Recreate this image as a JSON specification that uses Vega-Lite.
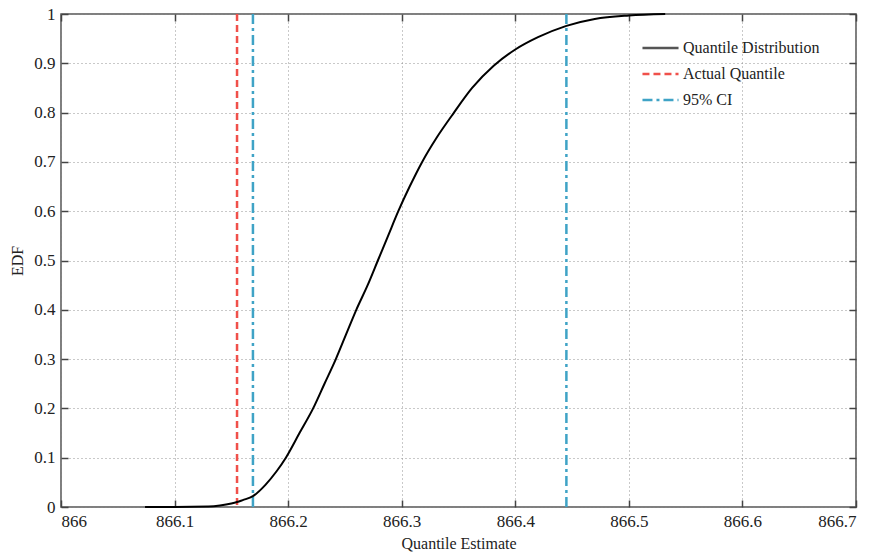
{
  "$schema": "https://vega.github.io/schema/vega-lite/v6.json",
  "width": 795,
  "height": 493,
  "autosize": "none",
  "padding": {"left": 61, "top": 14, "right": 17, "bottom": 50},
  "background": "white",
  "config": {
    "font": "Liberation Serif",
    "view": {"stroke": "#555", "strokeWidth": 1.5},
    "axis": {
      "labelFont": "Liberation Serif",
      "titleFont": "Liberation Serif",
      "labelFontSize": 17,
      "titleFontSize": 16,
      "titleFontWeight": "normal",
      "labelColor": "#222",
      "titleColor": "#222",
      "domain": false,
      "tickColor": "#444",
      "tickSize": -7,
      "tickWidth": 1.5,
      "gridColor": "#888",
      "gridDash": [1, 3],
      "gridWidth": 1,
      "gridOpacity": 0.9
    },
    "legend": {
      "labelFont": "Liberation Serif",
      "labelFontSize": 16,
      "labelColor": "#222"
    }
  },
  "datasets": {
    "curve": [
      {"x": 866.074, "y": 0, "series": "Quantile Distribution"},
      {"x": 866.1, "y": 0, "series": "Quantile Distribution"},
      {"x": 866.13, "y": 0.001, "series": "Quantile Distribution"},
      {"x": 866.14, "y": 0.003, "series": "Quantile Distribution"},
      {"x": 866.15, "y": 0.007, "series": "Quantile Distribution"},
      {"x": 866.155, "y": 0.01, "series": "Quantile Distribution"},
      {"x": 866.16, "y": 0.014, "series": "Quantile Distribution"},
      {"x": 866.169, "y": 0.022, "series": "Quantile Distribution"},
      {"x": 866.18, "y": 0.045, "series": "Quantile Distribution"},
      {"x": 866.19, "y": 0.073, "series": "Quantile Distribution"},
      {"x": 866.198, "y": 0.1, "series": "Quantile Distribution"},
      {"x": 866.21, "y": 0.15, "series": "Quantile Distribution"},
      {"x": 866.222, "y": 0.2, "series": "Quantile Distribution"},
      {"x": 866.232, "y": 0.25, "series": "Quantile Distribution"},
      {"x": 866.242, "y": 0.3, "series": "Quantile Distribution"},
      {"x": 866.251, "y": 0.35, "series": "Quantile Distribution"},
      {"x": 866.26, "y": 0.4, "series": "Quantile Distribution"},
      {"x": 866.27, "y": 0.45, "series": "Quantile Distribution"},
      {"x": 866.279, "y": 0.5, "series": "Quantile Distribution"},
      {"x": 866.288, "y": 0.55, "series": "Quantile Distribution"},
      {"x": 866.297, "y": 0.6, "series": "Quantile Distribution"},
      {"x": 866.307, "y": 0.65, "series": "Quantile Distribution"},
      {"x": 866.318, "y": 0.7, "series": "Quantile Distribution"},
      {"x": 866.331, "y": 0.75, "series": "Quantile Distribution"},
      {"x": 866.346, "y": 0.8, "series": "Quantile Distribution"},
      {"x": 866.362, "y": 0.85, "series": "Quantile Distribution"},
      {"x": 866.381, "y": 0.895, "series": "Quantile Distribution"},
      {"x": 866.4, "y": 0.928, "series": "Quantile Distribution"},
      {"x": 866.42, "y": 0.953, "series": "Quantile Distribution"},
      {"x": 866.445, "y": 0.976, "series": "Quantile Distribution"},
      {"x": 866.47, "y": 0.99, "series": "Quantile Distribution"},
      {"x": 866.5, "y": 0.997, "series": "Quantile Distribution"},
      {"x": 866.532, "y": 1.0, "series": "Quantile Distribution"}
    ],
    "vlines": [
      {"x": 866.155, "series": "Actual Quantile"},
      {"x": 866.169, "series": "95% CI"},
      {"x": 866.445, "series": "95% CI"}
    ]
  },
  "layer": [
    {
      "data": {"name": "vlines"},
      "mark": {"type": "rule", "strokeWidth": 2.5},
      "encoding": {
        "x": {
          "field": "x", "type": "quantitative",
          "scale": {"domain": [866, 866.7], "nice": false, "zero": false},
          "axis": {"values": [866, 866.1, 866.2, 866.3, 866.4, 866.5, 866.6, 866.7], "format": "~g", "title": "Quantile Estimate", "labelPadding": 13, "titlePadding": 6}
        },
        "color": {
          "field": "series", "type": "nominal",
          "scale": {"domain": ["Quantile Distribution", "Actual Quantile", "95% CI"], "range": ["#555555", "#f0504a", "#3fa3c6"]},
          "legend": {"title": null, "orient": "none", "legendX": 580, "legendY": 26, "symbolType": "stroke", "symbolSize": 1300, "symbolStrokeWidth": 2.5, "clipHeight": 16, "rowPadding": 10, "labelOffset": 3}
        },
        "strokeDash": {
          "field": "series", "type": "nominal",
          "scale": {"domain": ["Quantile Distribution", "Actual Quantile", "95% CI"], "range": [[1, 0], [7, 4], [10, 4, 3, 4]]},
          "legend": {"title": null, "orient": "none", "legendX": 580, "legendY": 26, "symbolType": "stroke", "symbolSize": 1300, "symbolStrokeWidth": 2.5, "clipHeight": 16, "rowPadding": 10, "labelOffset": 3}
        }
      }
    },
    {
      "data": {"name": "curve"},
      "mark": {"type": "line", "color": "#000", "strokeWidth": 2, "interpolate": "monotone"},
      "encoding": {
        "x": {"field": "x", "type": "quantitative", "axis": null},
        "y": {
          "field": "y", "type": "quantitative",
          "scale": {"domain": [0, 1], "nice": false},
          "axis": {"values": [0, 0.1, 0.2, 0.3, 0.4, 0.5, 0.6, 0.7, 0.8, 0.9, 1], "format": "~g", "title": "EDF", "labelPadding": 13, "titlePadding": 8}
        }
      }
    },
    {
      "data": {"name": "curve"},
      "mark": {"type": "point", "opacity": 0},
      "encoding": {
        "x": {"field": "x", "type": "quantitative", "axis": {"orient": "top", "values": [866, 866.1, 866.2, 866.3, 866.4, 866.5, 866.6, 866.7], "labels": false, "grid": false, "title": null}},
        "y": {"field": "y", "type": "quantitative", "axis": {"orient": "right", "values": [0, 0.1, 0.2, 0.3, 0.4, 0.5, 0.6, 0.7, 0.8, 0.9, 1], "labels": false, "grid": false, "title": null}}
      }
    }
  ],
  "resolve": {"axis": {"x": "independent", "y": "independent"}}
}
